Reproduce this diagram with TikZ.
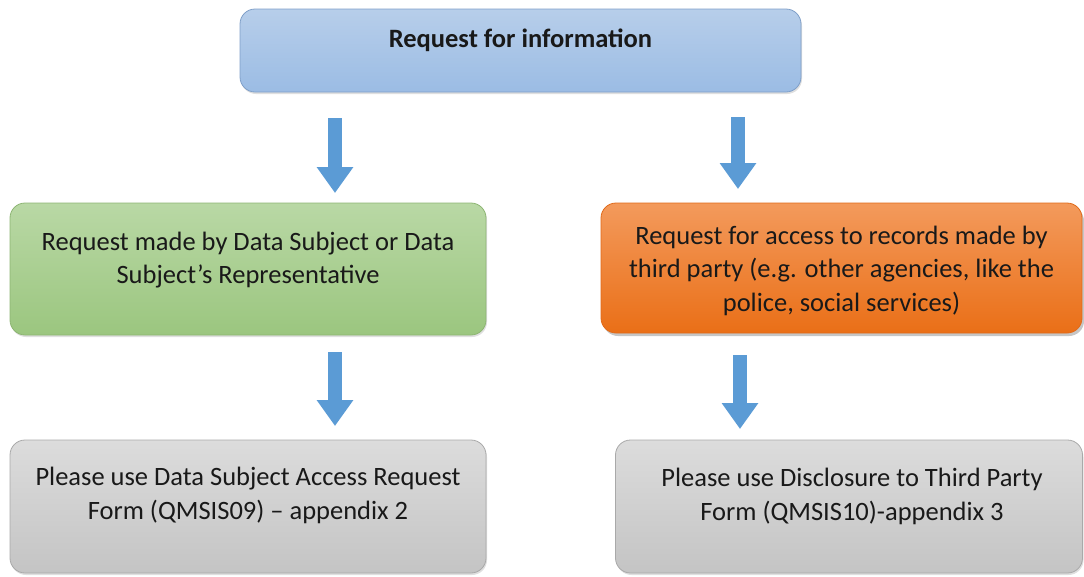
\documentclass[tikz,border=0pt]{standalone}
\usepackage{fontspec}
\setmainfont{Carlito}
\usetikzlibrary{arrows.meta,shadows}
\definecolor{bluetop}{HTML}{B7CEEA}
\definecolor{bluebot}{HTML}{9BBCE4}
\definecolor{blueedge}{HTML}{7F9FC8}
\definecolor{greentop}{HTML}{B9D8A5}
\definecolor{greenbot}{HTML}{9BC67F}
\definecolor{greenedge}{HTML}{8DB573}
\definecolor{orangetop}{HTML}{F39A5C}
\definecolor{orangebot}{HTML}{EA6F17}
\definecolor{orangeedge}{HTML}{E06A1A}
\definecolor{graytop}{HTML}{DCDCDC}
\definecolor{graybot}{HTML}{C4C4C4}
\definecolor{grayedge}{HTML}{A9A9A9}
\definecolor{arrowblue}{HTML}{5B9BD5}
\tikzset{
  box/.style={draw, rounded corners=15pt, line width=0.8pt, inner sep=0pt},
  bluebox/.style={box, draw=blueedge, top color=bluetop, bottom color=bluebot,
    drop shadow={opacity=0.25, shadow xshift=1pt, shadow yshift=-2pt}},
  greenbox/.style={box, draw=greenedge, top color=greentop, bottom color=greenbot,
    drop shadow={opacity=0.25, shadow xshift=1pt, shadow yshift=-2pt}},
  orangebox/.style={box, draw=orangeedge, top color=orangetop, bottom color=orangebot,
    drop shadow={opacity=0.45, shadow xshift=2pt, shadow yshift=-3pt}},
  graybox/.style={box, draw=grayedge, top color=graytop, bottom color=graybot,
    drop shadow={opacity=0.25, shadow xshift=1pt, shadow yshift=-2pt}},
  txt/.style={align=center, font=\fontsize{26.5}{33.5}\selectfont, text=black!90, inner sep=0pt},
  fatarrow/.style={draw=arrowblue, line width=14pt,
    -{Triangle[width=35pt,length=26pt]}, arrowblue}
}
\begin{document}
\begin{tikzpicture}[x=1pt,y=-1pt]
\useasboundingbox (0,0) rectangle (1084,576);
% boxes
\node[bluebox, minimum width=561pt, minimum height=83pt] (top) at (520.5,50.5) {};
\node[greenbox, minimum width=476pt, minimum height=132pt] (green) at (248,269) {};
\node[orangebox, minimum width=481pt, minimum height=130pt] (orange) at (841.5,268) {};
\node[graybox, minimum width=476pt, minimum height=133pt] (gray1) at (248,506.5) {};
\node[graybox, minimum width=467pt, minimum height=133pt] (gray2) at (849,506.5) {};
% texts
\node[txt, font=\bfseries\fontsize{26.5}{33.5}\selectfont] (ttop) at (520.5,40) {Request for information};
\node[txt] (tgreen) at (248,260) {Request made by Data Subject or Data\\Subject’s Representative};
\node[txt] (torange) at (841.5,270.5) {Request for access to records made by\\third party (e.g. other agencies, like the\\police, social services)};
\node[txt] (tgray1) at (248,495.5) {Please use Data Subject Access Request\\Form (QMSIS09) – appendix 2};
\node[txt] (tgray2) at (852,496.5) {Please use Disclosure to Third Party\\Form (QMSIS10)-appendix 3};
% arrow end points
\coordinate (a1s) at (335,118);
\coordinate (a1e) at (335,193);
\coordinate (a2s) at (738,117);
\coordinate (a2e) at (738,189);
\coordinate (a3s) at (335,352);
\coordinate (a3e) at (335,426);
\coordinate (a4s) at (740,355);
\coordinate (a4e) at (740,429);
\draw[fatarrow] (a1s) -- (a1e);
\draw[fatarrow] (a2s) -- (a2e);
\draw[fatarrow] (a3s) -- (a3e);
\draw[fatarrow] (a4s) -- (a4e);
\end{tikzpicture}
\end{document}
